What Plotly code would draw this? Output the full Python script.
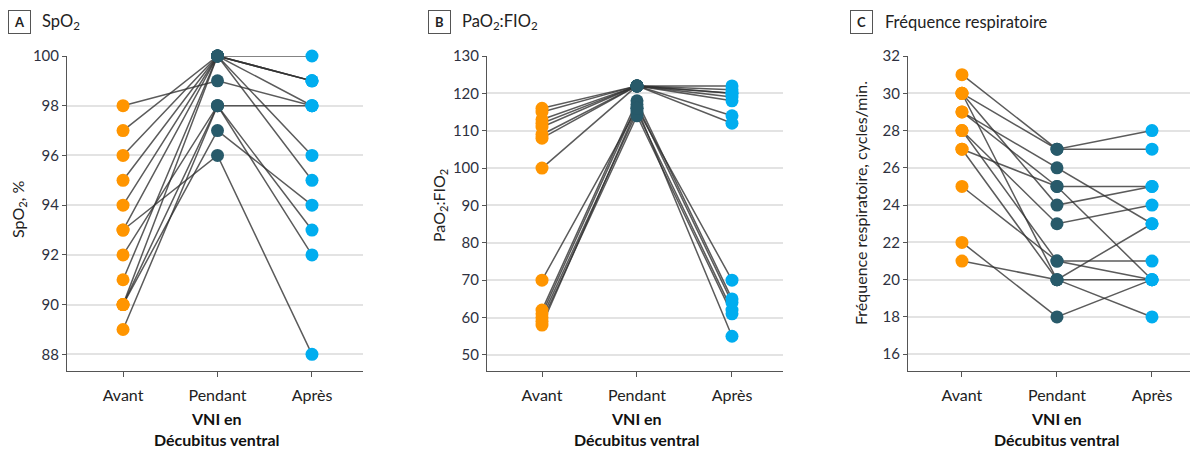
import plotly.graph_objects as go

# Time points
phases = ["Avant", "Pendant", "Après"]

# Panel A: SpO2 (%) per patient: before / during / after prone NIV
spo2_avant = [98, 97, 96, 95, 94, 93, 93, 92, 91, 90, 90, 89, 90]
spo2_pendant = [99, 100, 100, 100, 100, 100, 96, 98, 100, 98, 97, 98, 100]
spo2_apres = [98, 100, 99, 99, 98, 96, 88, 98, 95, 93, 94, 92, 99]

# Panel B: PaO2:FIO2 per patient
pf_avant = [116, 115, 113, 112, 111, 109, 108, 100, 70, 62, 61, 60, 59, 58]
pf_pendant = [122, 122, 122, 122, 122, 122, 122, 122, 116, 118, 117, 115, 114, 116]
pf_apres = [122, 121, 120, 120, 118, 114, 112, 119, 70, 65, 64, 62, 61, 55]

# Panel C: respiratory rate (cycles/min) per patient
fr_avant = [31, 30, 30, 30, 29, 29, 28, 28, 27, 27, 25, 22, 21]
fr_pendant = [27, 27, 24, 20, 26, 25, 23, 21, 25, 20, 21, 18, 20]
fr_apres = [27, 28, 25, 20, 23, 20, 24, 21, 25, 23, 20, 20, 18]

# Axis ticks
spo2_ticks = [88, 90, 92, 94, 96, 98, 100]
pf_ticks = [50, 60, 70, 80, 90, 100, 110, 120, 130]
fr_ticks = [16, 18, 20, 22, 24, 26, 28, 30, 32]

ORANGE = "#ff9500"
TEAL = "#285a6a"
CYAN = "#00adef"
LINE = "rgba(50,50,50,0.8)"
FONT = "Lato"
TICK_COLOR = "#2e3140"

W, H = 1198, 450
PLOT_TOP, PLOT_BOTTOM = 56, 371


def px_x(v):
    return v / W


def px_y(v):
    return 1 - v / H


panels = [
    dict(avant=spo2_avant, pendant=spo2_pendant, apres=spo2_apres,
         ticks=spo2_ticks, yrange=[87.33, 100], left=67, right=363,
         xrange=[-0.593, 2.54]),
    dict(avant=pf_avant, pendant=pf_pendant, apres=pf_apres,
         ticks=pf_ticks, yrange=[45.7, 130], left=487, right=783,
         xrange=[-0.579, 2.537]),
    dict(avant=fr_avant, pendant=fr_pendant, apres=fr_apres,
         ticks=fr_ticks, yrange=[15.1, 32], left=908, right=1190,
         xrange=[-0.568, 2.4]),
]

fig = go.Figure()
layout = {}

for i, p in enumerate(panels, start=1):
    xa = "x" if i == 1 else f"x{i}"
    ya = "y" if i == 1 else f"y{i}"

    # Patient trajectories
    lx, ly = [], []
    for a, b, c in zip(p["avant"], p["pendant"], p["apres"]):
        lx += phases + [None]
        ly += [a, b, c, None]
    fig.add_trace(go.Scatter(
        x=lx, y=ly, mode="lines", xaxis=xa, yaxis=ya,
        line=dict(color=LINE, width=1.5), hoverinfo="skip",
        showlegend=False, cliponaxis=False, connectgaps=False))

    # Markers for each time point
    for phase, vals, col in [("Avant", p["avant"], ORANGE),
                             ("Pendant", p["pendant"], TEAL),
                             ("Après", p["apres"], CYAN)]:
        fig.add_trace(go.Scatter(
            x=[phase] * len(vals), y=vals, mode="markers",
            xaxis=xa, yaxis=ya, cliponaxis=False, showlegend=False,
            marker=dict(color=col, size=13, line=dict(width=0))))

    layout["xaxis" if i == 1 else f"xaxis{i}"] = dict(
        domain=[px_x(p["left"]), px_x(p["right"])],
        anchor=ya, type="category", categoryorder="array",
        categoryarray=phases, range=p["xrange"], automargin=False,
        showline=True, linecolor="#555555", linewidth=1,
        ticks="outside", ticklen=5, tickcolor="#555555",
        showgrid=False, zeroline=False, ticklabelstandoff=5,
        tickfont=dict(family=FONT, size=16, color="#222222"))
    layout["yaxis" if i == 1 else f"yaxis{i}"] = dict(
        domain=[px_y(PLOT_BOTTOM), px_y(PLOT_TOP)],
        anchor=xa, range=p["yrange"], tickvals=p["ticks"], automargin=False,
        showline=True, linecolor="#555555", linewidth=1,
        ticks="outside", ticklen=4, tickcolor="#555555",
        showgrid=True, gridcolor="#e3e3e3", gridwidth=1.5,
        zeroline=False,
        tickfont=dict(family=FONT, size=15, color=TICK_COLOR))

annotations = []

# Panel letters and titles
for letter, lx_px, title, tx_px in [("A", 19, "SpO<sub>2</sub>", 40),
                                    ("B", 440, "PaO<sub>2</sub>:FIO<sub>2</sub>", 460),
                                    ("C", 861, "Fréquence respiratoire", 883)]:
    annotations.append(dict(
        x=px_x(lx_px), y=px_y(22), xref="paper", yref="paper",
        text=f"<b>{letter}</b>", showarrow=False, xanchor="center",
        yanchor="middle", font=dict(family=FONT, size=13, color="#222222"),
        bordercolor="#555555", borderwidth=1, borderpad=2,
        width=17, height=18))
    annotations.append(dict(
        x=px_x(tx_px), y=px_y(22), xref="paper", yref="paper",
        text=title, showarrow=False, xanchor="left", yanchor="middle",
        font=dict(family=FONT, size=16.5, color="#222222")))

# Y-axis titles
for text, x_px, y_px in [("SpO<sub>2</sub>, %", 18, 210),
                         ("PaO<sub>2</sub>:FIO<sub>2</sub>", 440, 205),
                         ("Fréquence respiratoire, cycles/min.", 860, 203)]:
    annotations.append(dict(
        x=px_x(x_px), y=px_y(y_px), xref="paper", yref="paper",
        text=text, textangle=-90, showarrow=False,
        xanchor="center", yanchor="middle",
        font=dict(family=FONT, size=16, color="#222222")))

# X-axis titles
for x_px in [217, 637, 1057]:
    annotations.append(dict(
        x=px_x(x_px), y=px_y(429), xref="paper", yref="paper",
        text="<b>VNI en<br>Décubitus ventral</b>", showarrow=False,
        xanchor="center", yanchor="middle", align="center",
        font=dict(family=FONT, size=16, color="#111111")))

fig.update_layout(
    width=W, height=H,
    margin=dict(l=0, r=0, t=0, b=0, autoexpand=False),
    paper_bgcolor="white", plot_bgcolor="white",
    annotations=annotations,
    **layout)

fig.write_html("out.html")
